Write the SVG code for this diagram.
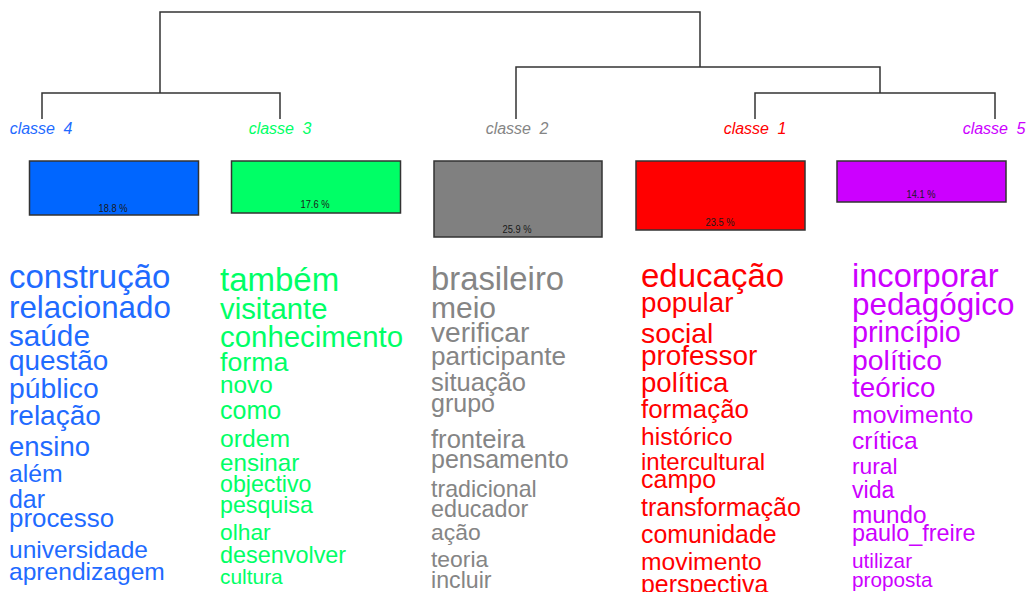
<svg xmlns="http://www.w3.org/2000/svg" width="1027" height="592" viewBox="0 0 1027 592">
<style>
text{font-family:"Liberation Sans",Arial,sans-serif}
.lbl{font-size:16px;font-style:italic;word-spacing:4px;text-anchor:middle}
.pct{font-size:10.5px;fill:#1a1a1a;text-anchor:middle}
.box{stroke:#333;stroke-width:1.5}
.c4{fill:#1f6bff}.c3{fill:#00ff66}.c2{fill:#858585}.c1{fill:#ff0000}.c5{fill:#cc00ff}
#connectors path{fill:none;stroke:#333;stroke-width:1.5}
</style>
<rect width="1027" height="592" fill="#fff"/>
<g id="connectors">
<path d="M160,93 V12 H700 V67"/>
<path d="M42,119 V93 H280 V119"/>
<path d="M516,119 V67 H880 V93"/>
<path d="M755,119 V93 H995 V119"/>
</g>
<g id="classe4">
<text class="lbl c4" x="41" y="134">classe 4</text>
<rect class="box" x="29.5" y="161" width="169" height="54" fill="#0066ff"/>
<text class="pct" x="113" y="212" textLength="29" lengthAdjust="spacingAndGlyphs">18.8 %</text>
<g class="c4">
<text x="9" y="288" font-size="33">construção</text>
<text x="9" y="318" font-size="31.3">relacionado</text>
<text x="9" y="346" font-size="29.7">saúde</text>
<text x="9" y="370" font-size="27.9">questão</text>
<text x="9" y="398" font-size="28.3">público</text>
<text x="9" y="425" font-size="28">relação</text>
<text x="9" y="456" font-size="27.5">ensino</text>
<text x="9" y="482" font-size="24.8">além</text>
<text x="9" y="508" font-size="24.9">dar</text>
<text x="9" y="527" font-size="25.9">processo</text>
<text x="9" y="558" font-size="24.5">universidade</text>
<text x="9" y="580" font-size="24.6">aprendizagem</text>
</g>
</g>
<g id="classe3">
<text class="lbl c3" x="280" y="134">classe 3</text>
<rect class="box" x="231.5" y="161" width="169" height="52" fill="#00ff66"/>
<text class="pct" x="315" y="208" textLength="29" lengthAdjust="spacingAndGlyphs">17.6 %</text>
<g class="c3">
<text x="220" y="291" font-size="33">também</text>
<text x="220" y="319" font-size="29.3">visitante</text>
<text x="220" y="347" font-size="29.4">conhecimento</text>
<text x="220" y="371" font-size="26.7">forma</text>
<text x="220" y="393" font-size="24.3">novo</text>
<text x="220" y="419" font-size="25">como</text>
<text x="220" y="447" font-size="24.7">ordem</text>
<text x="220" y="471" font-size="24.2">ensinar</text>
<text x="220" y="492" font-size="23.2">objectivo</text>
<text x="220" y="513" font-size="23.2">pesquisa</text>
<text x="220" y="540" font-size="22.8">olhar</text>
<text x="220" y="563" font-size="23.4">desenvolver</text>
<text x="220" y="584" font-size="20.9">cultura</text>
</g>
</g>
<g id="classe2">
<text class="lbl c2" x="517" y="134">classe 2</text>
<rect class="box" x="434" y="161" width="168" height="76" fill="#808080"/>
<text class="pct" x="517" y="233" textLength="29" lengthAdjust="spacingAndGlyphs">25.9 %</text>
<g class="c2">
<text x="431" y="290" font-size="32.8">brasileiro</text>
<text x="431" y="318" font-size="30">meio</text>
<text x="431" y="342" font-size="28.1">verificar</text>
<text x="431" y="365" font-size="26.1">participante</text>
<text x="431" y="391" font-size="25.5">situação</text>
<text x="431" y="412" font-size="25">grupo</text>
<text x="431" y="448" font-size="25.6">fronteira</text>
<text x="431" y="468" font-size="25">pensamento</text>
<text x="431" y="497" font-size="23.2">tradicional</text>
<text x="431" y="517" font-size="23.3">educador</text>
<text x="431" y="540" font-size="22.9">ação</text>
<text x="431" y="567" font-size="22.9">teoria</text>
<text x="431" y="588" font-size="23.2">incluir</text>
</g>
</g>
<g id="classe1">
<text class="lbl c1" x="755" y="134">classe 1</text>
<rect class="box" x="636" y="161" width="169" height="69" fill="#ff0000"/>
<text class="pct" x="720" y="226" textLength="29" lengthAdjust="spacingAndGlyphs">23.5 %</text>
<g class="c1">
<text x="641" y="287" font-size="33">educação</text>
<text x="641" y="312" font-size="27.7">popular</text>
<text x="641" y="343" font-size="28.3">social</text>
<text x="641" y="365" font-size="27.9">professor</text>
<text x="641" y="392" font-size="27.6">política</text>
<text x="641" y="418" font-size="25.9">formação</text>
<text x="641" y="445" font-size="24.6">histórico</text>
<text x="641" y="470" font-size="24">intercultural</text>
<text x="641" y="488" font-size="25">campo</text>
<text x="641" y="516" font-size="25">transformação</text>
<text x="641" y="543" font-size="24.9">comunidade</text>
<text x="641" y="570" font-size="24.7">movimento</text>
<text x="641" y="593" font-size="24.9">perspectiva</text>
</g>
</g>
<g id="classe5">
<text class="lbl c5" x="994" y="134">classe 5</text>
<rect class="box" x="837" y="161" width="169" height="41" fill="#cc00ff"/>
<text class="pct" x="921" y="198" textLength="29" lengthAdjust="spacingAndGlyphs">14.1 %</text>
<g class="c5">
<text x="852" y="287" font-size="32.6">incorporar</text>
<text x="852" y="315" font-size="31.4">pedagógico</text>
<text x="852" y="342" font-size="28.8">princípio</text>
<text x="852" y="370" font-size="28.4">político</text>
<text x="852" y="397" font-size="27.8">teórico</text>
<text x="852" y="423" font-size="24.8">movimento</text>
<text x="852" y="449" font-size="24.6">crítica</text>
<text x="852" y="474" font-size="22.8">rural</text>
<text x="852" y="498" font-size="23.1">vida</text>
<text x="852" y="523" font-size="24.4">mundo</text>
<text x="852" y="541" font-size="23.4">paulo_freire</text>
<text x="852" y="568" font-size="20.8">utilizar</text>
<text x="852" y="587" font-size="20.7">proposta</text>
</g>
</g>
</svg>
